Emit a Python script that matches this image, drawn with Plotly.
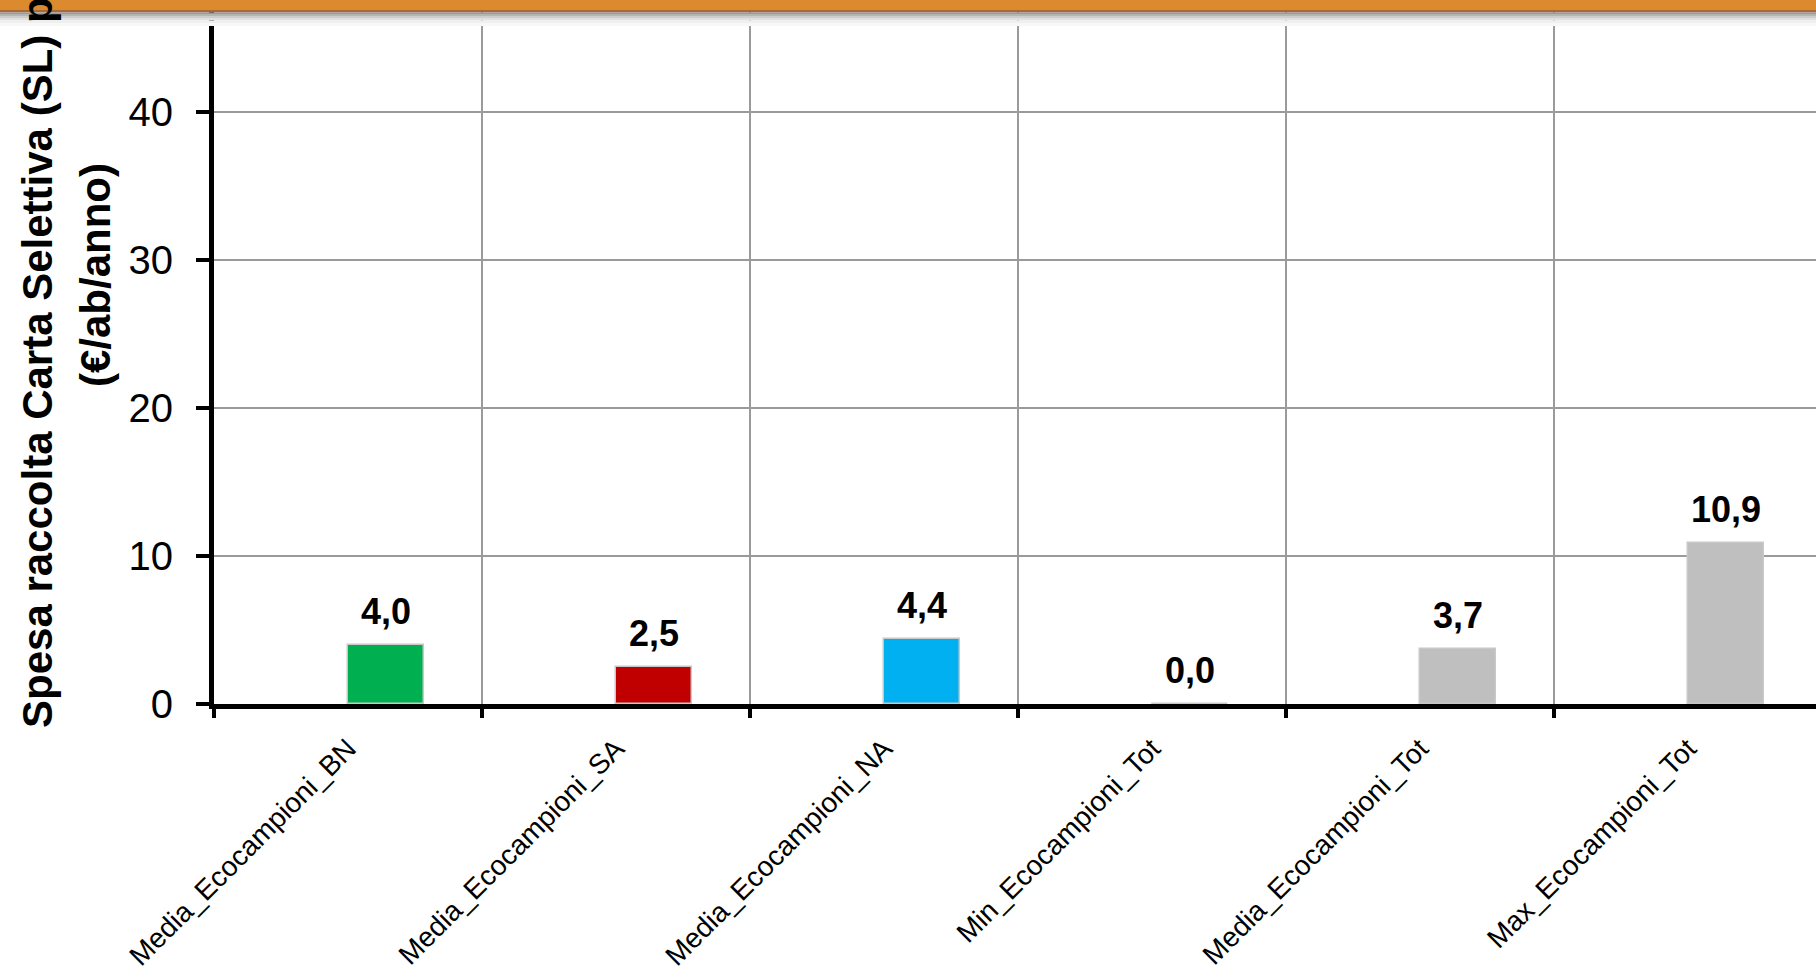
import plotly.graph_objects as go

categories = ["Media_Ecocampioni_BN", "Media_Ecocampioni_SA", "Media_Ecocampioni_NA",
              "Min_Ecocampioni_Tot", "Media_Ecocampioni_Tot", "Max_Ecocampioni_Tot"]
values = [4.0, 2.5, 4.4, 0.0, 3.7, 10.9]
labels = ["4,0", "2,5", "4,4", "0,0", "3,7", "10,9"]
colors = ["#00B050", "#C00000", "#00B0F0", "#BFBFBF", "#BFBFBF", "#BFBFBF"]
y_ticks = [0, 10, 20, 30, 40]
title_line1 = "Spesa raccolta Carta Selettiva (SL) pro capite"
title_line2 = "(€/ab/anno)"

W, H = 1816, 978
ML, MB, MT, MR = 214, 274, 0, 0
plot_w = W - ML - MR
plot_h = H - MB - MT
cat_px = 268.0
px_per_unit = 14.8
bar_w = 0.285

FONT = "Liberation Sans, Arial"

fig = go.Figure()
fig.add_trace(go.Bar(
    x=categories, y=values, width=bar_w, offset=0,
    marker=dict(color=colors, line=dict(color="#C8C8C8", width=1.5)),
    hoverinfo="x+y", showlegend=False,
))

annotations = []
for c, v, t in zip(categories, values, labels):
    annotations.append(dict(
        x=c, y=v, xref="x", yref="y", text="<b>" + t + "</b>", showarrow=False,
        xshift=bar_w / 2 * cat_px, yshift=11, yanchor="bottom", xanchor="center",
        font=dict(family=FONT, size=36, color="#000000"),
    ))

def xp(px):
    return (px - ML) / plot_w

def yp(px):
    return (H - MB - px) / plot_h

annotations.append(dict(
    x=xp(37), y=yp(275), xref="paper", yref="paper", text="<b>" + title_line1 + "</b>",
    textangle=-90, showarrow=False, xanchor="center", yanchor="middle",
    font=dict(family=FONT, size=42, color="#000000"),
))
annotations.append(dict(
    x=xp(95), y=yp(275), xref="paper", yref="paper", text="<b>" + title_line2 + "</b>",
    textangle=-90, showarrow=False, xanchor="center", yanchor="middle",
    font=dict(family=FONT, size=42, color="#000000"),
))

shapes = [
    dict(type="rect", xref="paper", yref="paper", x0=xp(0), x1=xp(W), y0=yp(0), y1=yp(10),
         fillcolor="#DB8A2D", line=dict(width=0), layer="above"),
    dict(type="rect", xref="paper", yref="paper", x0=xp(0), x1=xp(W), y0=yp(10), y1=yp(12.5),
         fillcolor="#A5693A", line=dict(width=0), layer="above"),
]
shadow = [("#9A9A9A", 12.5, 14), ("#B5B5B5", 14, 16), ("#CDCDCD", 16, 18),
          ("#E0E0E0", 18, 20.5), ("#EFEFEF", 20.5, 23), ("#F8F8F8", 23, 26)]
for col, a, b in shadow:
    shapes.append(dict(type="rect", xref="paper", yref="paper", x0=xp(0), x1=xp(W),
                       y0=yp(a), y1=yp(b), fillcolor=col, line=dict(width=0), layer="above"))

fig.update_layout(
    width=W, height=H,
    margin=dict(l=ML, r=MR, t=MT, b=MB, pad=0, autoexpand=False),
    paper_bgcolor="#FFFFFF", plot_bgcolor="#FFFFFF",
    bargap=0, showlegend=False,
    annotations=annotations, shapes=shapes,
    xaxis=dict(
        type="category", categoryorder="array", categoryarray=categories,
        range=[-0.5, -0.5 + plot_w / cat_px], automargin=False,
        tickson="boundaries", showgrid=True, gridcolor="#9A9A9A", gridwidth=1.5,
        showline=True, linecolor="#000000", linewidth=5,
        ticks="outside", ticklen=9, tickwidth=4, tickcolor="#000000",
        tickangle=-45, ticklabelstandoff=12,
        tickfont=dict(family=FONT, size=28, color="#000000"),
        zeroline=False, fixedrange=True,
    ),
    yaxis=dict(
        range=[0, plot_h / px_per_unit], tickvals=y_ticks, automargin=False,
        ticktext=[str(v) for v in y_ticks],
        showgrid=True, gridcolor="#9A9A9A", gridwidth=1.5,
        showline=True, linecolor="#000000", linewidth=5,
        ticks="outside", ticklen=13, tickwidth=4, tickcolor="#000000",
        ticklabelstandoff=15,
        tickfont=dict(family=FONT, size=40, color="#000000"),
        zeroline=False, fixedrange=True,
    ),
)

fig.write_html("out.html", config={"displayModeBar": False},
               post_script="document.body.style.margin='0';document.body.style.overflow='hidden';")
